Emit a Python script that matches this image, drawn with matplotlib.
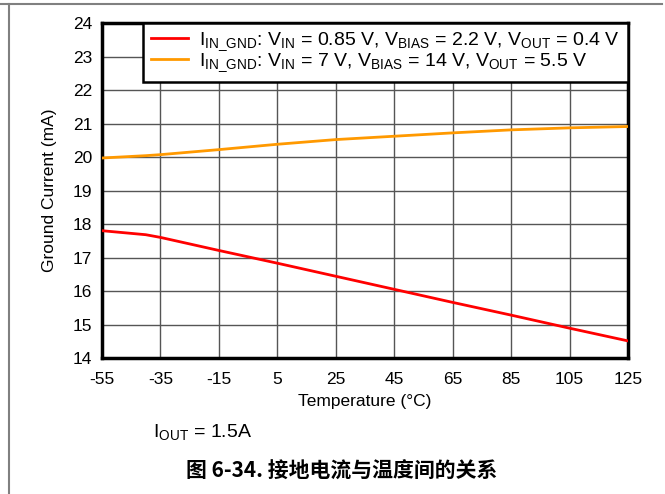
import matplotlib
matplotlib.use("Agg")
import matplotlib.pyplot as plt
from matplotlib.lines import Line2D

plt.rcParams['font.family'] = ['Liberation Sans', 'DejaVu Sans']
plt.rcParams['mathtext.fontset'] = 'custom'
plt.rcParams['mathtext.rm'] = 'Liberation Sans'
plt.rcParams['mathtext.it'] = 'Liberation Sans'
plt.rcParams['axes.unicode_minus'] = False

# Ground current vs temperature
temp_low = [-55, -40, -35, -15, 5, 25, 45, 65, 85, 105, 125]
current_low = [17.80, 17.68, 17.60, 17.21, 16.83, 16.44, 16.05, 15.66, 15.28, 14.89, 14.51]

temp_high = [-55, -40, -35, -15, 5, 25, 45, 65, 85, 105, 125]
current_high = [19.97, 20.04, 20.07, 20.22, 20.38, 20.52, 20.62, 20.72, 20.81, 20.87, 20.91]

x_ticks = [-55, -35, -15, 5, 25, 45, 65, 85, 105, 125]
y_ticks = [14, 15, 16, 17, 18, 19, 20, 21, 22, 23, 24]

label_low = r'I$_{\mathrm{IN\_GND}}$: V$_{\mathrm{IN}}$ = 0.85 V, V$_{\mathrm{BIAS}}$ = 2.2 V, V$_{\mathrm{OUT}}$ = 0.4 V'
label_high = r'I$_{\mathrm{IN\_GND}}$: V$_{\mathrm{IN}}$ = 7 V, V$_{\mathrm{BIAS}}$ = 14 V, V$_{\mathrm{OUT}}$ = 5.5 V'

fig = plt.figure(figsize=(6.65, 4.94), dpi=100)

# page frame lines (top and left)
fig.add_artist(Line2D([0.0, 0.995], [1 - 4.5 / 494] * 2, color='#808080', lw=1.5,
                      transform=fig.transFigure))
fig.add_artist(Line2D([8.5 / 665] * 2, [0.0, 1 - 4.5 / 494], color='#808080', lw=1.5,
                      transform=fig.transFigure))

ax = fig.add_axes([102 / 665, 1 - 358 / 494, (628 - 102) / 665, (358 - 23) / 494])

ax.plot(temp_low, current_low, color='#ff0000', lw=2, label=label_low, zorder=3)
ax.plot(temp_high, current_high, color='#ff9900', lw=2, label=label_high, zorder=3)

ax.set_xlim(-55, 125)
ax.set_ylim(14, 24)
ax.set_xticks(x_ticks)
ax.set_yticks(y_ticks)
ax.grid(True, color='#555555', lw=1)
ax.set_axisbelow(True)
ax.tick_params(length=0, labelsize=12.5)
ax.tick_params(axis='x', pad=10)
ax.tick_params(axis='y', pad=7)
for s in ax.spines.values():
    s.set_linewidth(2.5)
    s.set_color('black')

ax.set_xlabel('Temperature (°C)', fontsize=12.5, labelpad=5)
ax.set_ylabel('Ground Current (mA)', fontsize=12.5, labelpad=11)

leg = ax.legend(loc='upper right', bbox_to_anchor=(1.0, 1.0), fontsize=14,
                frameon=True, fancybox=False, framealpha=1, edgecolor='black',
                borderaxespad=0, handlelength=1.9, handletextpad=0.6,
                labelspacing=-0.1, borderpad=0.4)
leg.get_frame().set_linewidth(1.8)

fig.text(153 / 665, 1 - 432 / 494, r'I$_{\mathrm{OUT}}$ = 1.5A', fontsize=14,
         ha='left', va='center')
fig.text(342 / 665, 1 - 471 / 494, '图 6-34. 接地电流与温度间的关系', fontsize=15,
         fontweight='bold', ha='center', va='center',
         family=['Noto Sans CJK SC', 'DejaVu Sans'])

fig.savefig('out.png', dpi=100)
